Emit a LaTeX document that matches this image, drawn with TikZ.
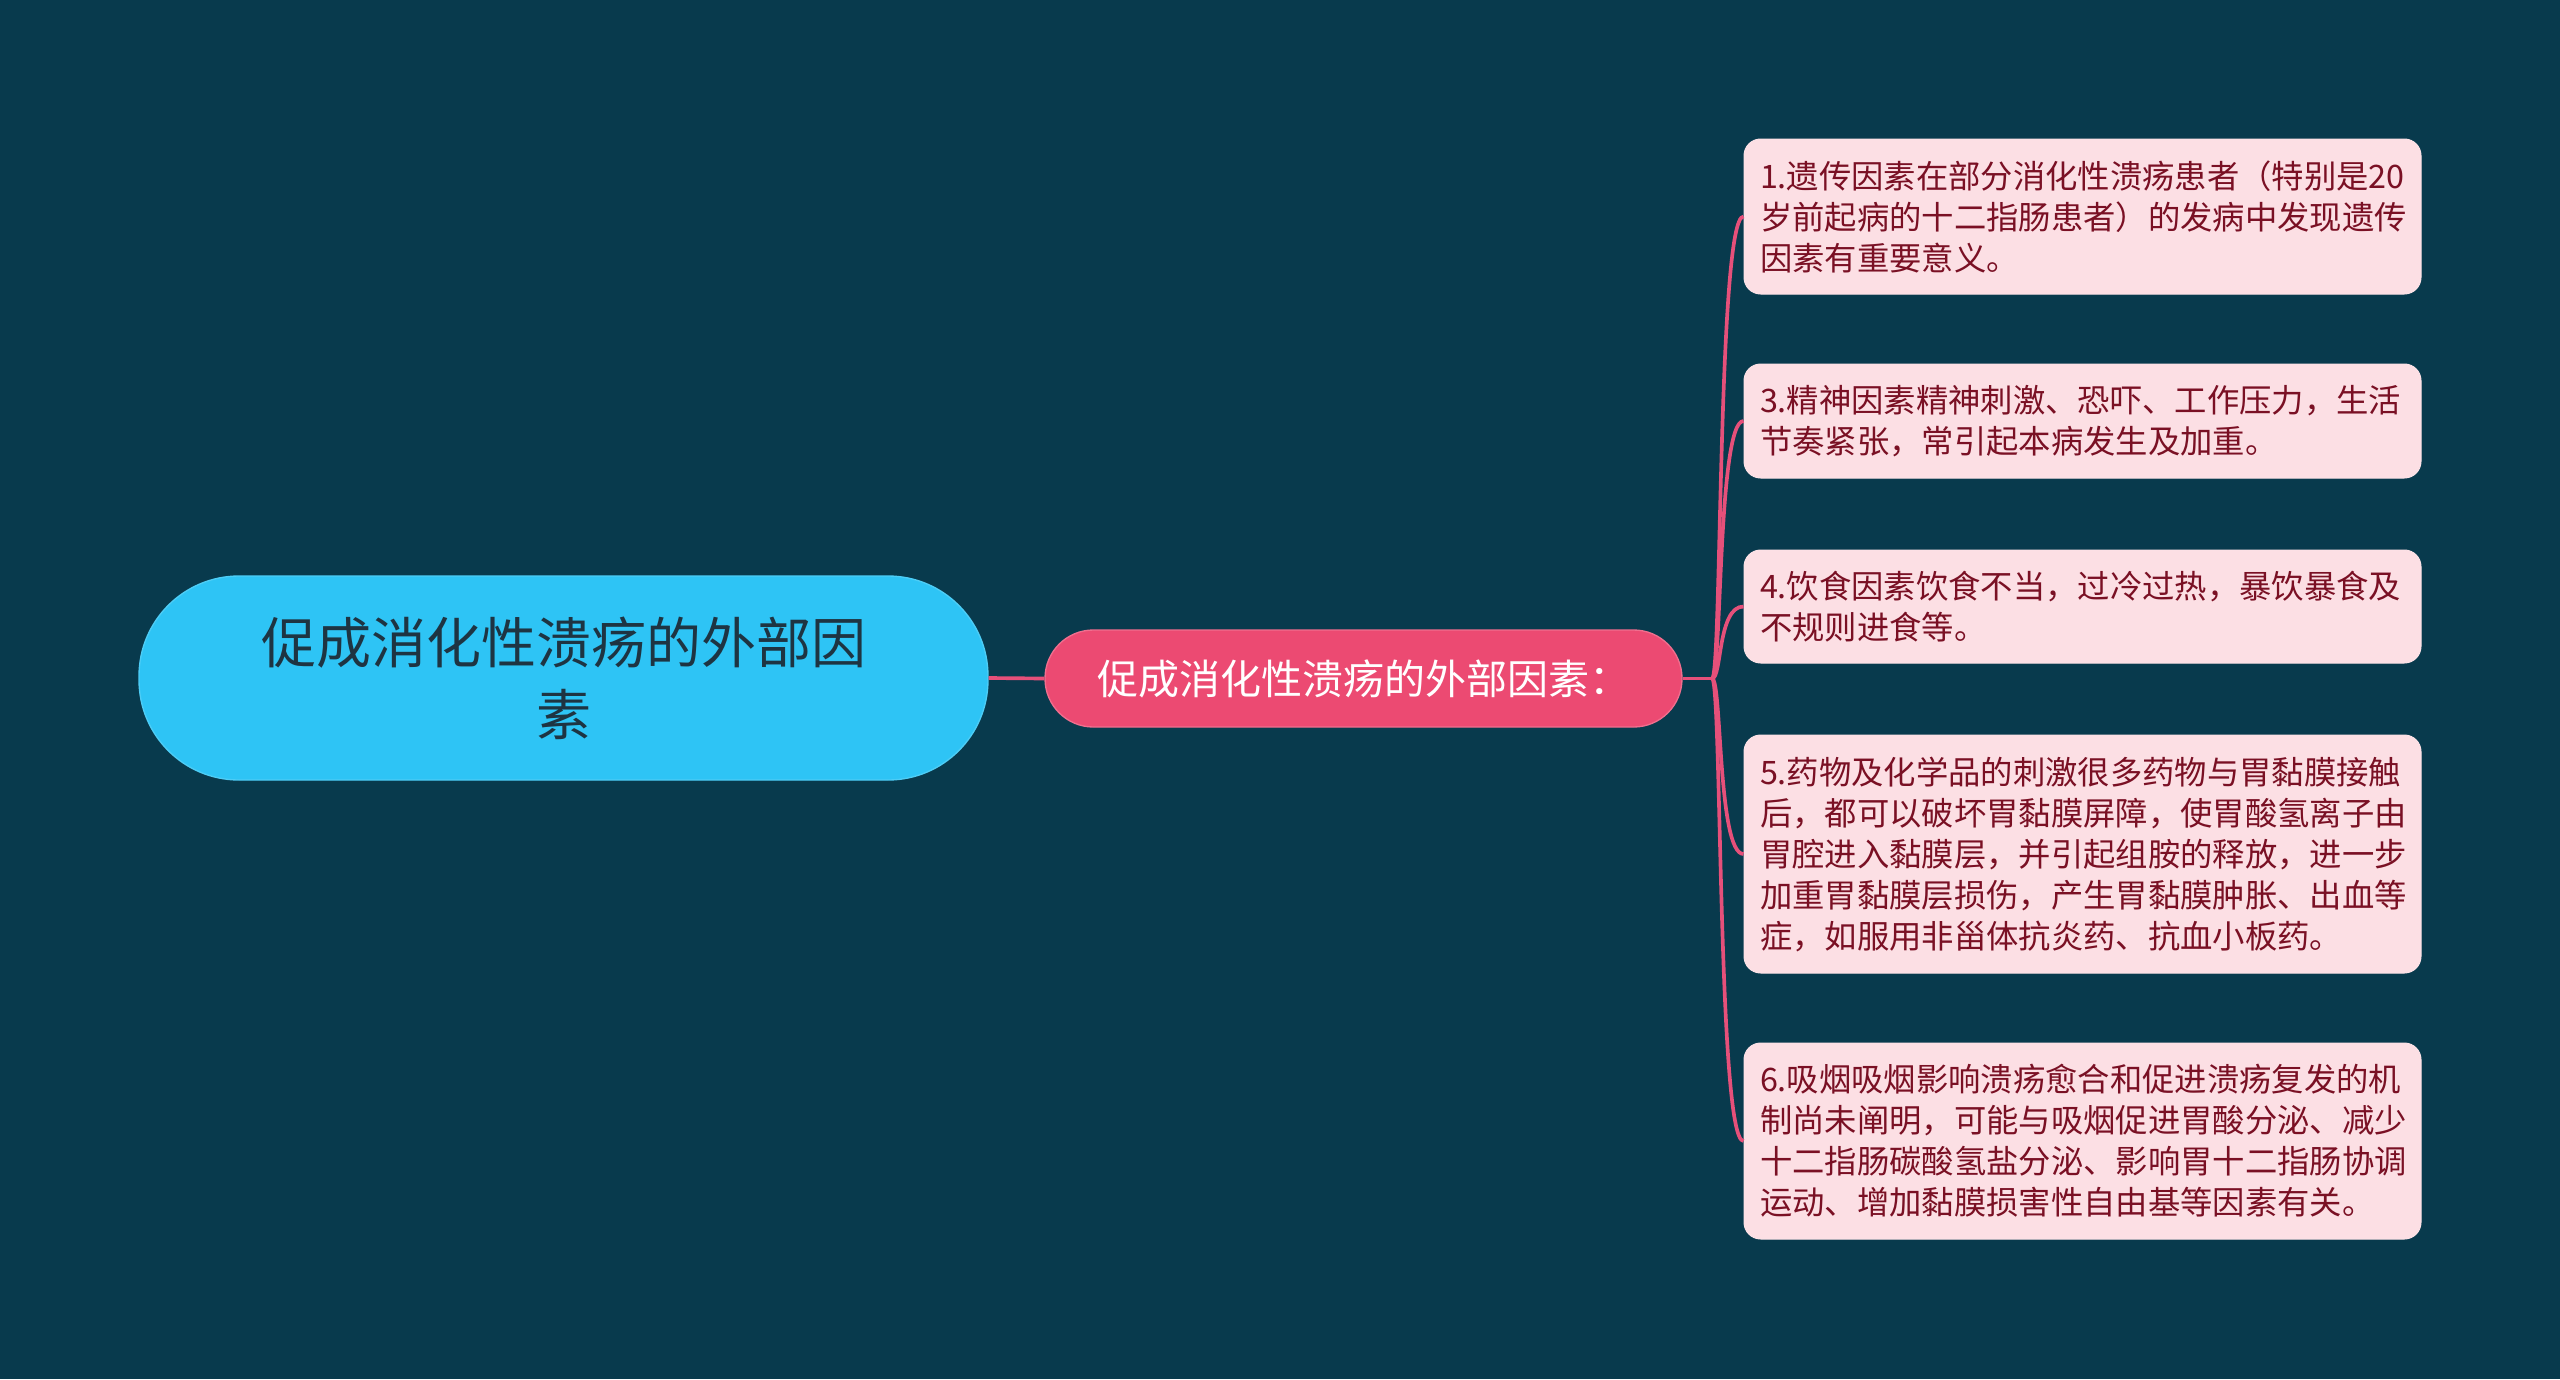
\documentclass[tikz,border=0pt]{standalone}
\usepackage{fontspec}
\usetikzlibrary{calc}
\setmainfont{Noto Sans CJK SC}
\definecolor{bgc}{HTML}{083A4D}
\definecolor{rootc}{HTML}{2EC4F5}
\definecolor{roottext}{HTML}{1E3442}
\definecolor{midc}{HTML}{EC4A72}
\definecolor{linec}{HTML}{E6507A}
\definecolor{leafc}{HTML}{FCDFE4}
\definecolor{leaftext}{HTML}{7A1024}
\begin{document}
\begin{tikzpicture}[x=0.3pt,y=-0.3pt,
  rootbox/.style={fill=rootc, draw=rootc!85!white, line width=0.4pt, rounded corners=30pt,
    minimum width=254.7pt, minimum height=61.2pt, inner sep=0pt, align=center,
    text=roottext, font=\fontsize{16.5pt}{21.6pt}\selectfont},
  midbox/.style={fill=midc, draw=midc!80!white, line width=0.4pt, rounded corners=14.5pt,
    minimum width=191.1pt, minimum height=29.1pt, inner sep=0pt, align=center,
    text=white, font=\fontsize{12.3pt}{14pt}\selectfont},
  leafbox/.style={fill=leafc, draw=leafc!90!white, line width=0.3pt, rounded corners=5pt,
    minimum width=203.1pt, inner xsep=4.8pt, inner ysep=0pt, text width=193.5pt, align=left,
    text=leaftext, font=\fontsize{9.7pt}{12.3pt}\selectfont},
  conn/.style={draw=linec, line width=1.1pt}
]
\fill[bgc] (0,0) rectangle (2560,1379);
\useasboundingbox (0,0) rectangle (2560,1379);

\node[rootbox] (root) at (563.5,678) {促成消化性溃疡的外部因\\素};
\node[midbox] (mid) at (1363.5,678.5) {促成消化性溃疡的外部因素：};

\node[leafbox, minimum height=46.5pt] (l1) at (2082.5,216.5) {1.遗传因素在部分消化性溃疡患者（特别是20\\岁前起病的十二指肠患者）的发病中发现遗传\\因素有重要意义。};
\node[leafbox, minimum height=34.2pt] (l2) at (2082.5,421) {3.精神因素精神刺激、恐吓、工作压力，生活\\节奏紧张，常引起本病发生及加重。};
\node[leafbox, minimum height=33.9pt] (l3) at (2082.5,606.5) {4.饮食因素饮食不当，过冷过热，暴饮暴食及\\不规则进食等。};
\node[leafbox, minimum height=71.4pt] (l4) at (2082.5,854) {5.药物及化学品的刺激很多药物与胃黏膜接触\\后，都可以破坏胃黏膜屏障，使胃酸氢离子由\\胃腔进入黏膜层，并引起组胺的释放，进一步\\加重胃黏膜层损伤，产生胃黏膜肿胀、出血等\\症，如服用非甾体抗炎药、抗血小板药。};
\node[leafbox, minimum height=58.8pt] (l5) at (2082.5,1141) {6.吸烟吸烟影响溃疡愈合和促进溃疡复发的机\\制尚未阐明，可能与吸烟促进胃酸分泌、减少\\十二指肠碳酸氢盐分泌、影响胃十二指肠协调\\运动、增加黏膜损害性自由基等因素有关。};

\draw[conn] (root.east) -- (mid.west);
\coordinate (hub) at (1712,678.5);
\draw[conn] (mid.east) -- (hub);
\foreach \n in {l1,l2,l3,l4,l5}{
  \draw[conn] (hub) .. controls (1722,678.5) and ($(\n.west)+(-26,0)$) .. (\n.west);
}
\end{tikzpicture}
\end{document}
